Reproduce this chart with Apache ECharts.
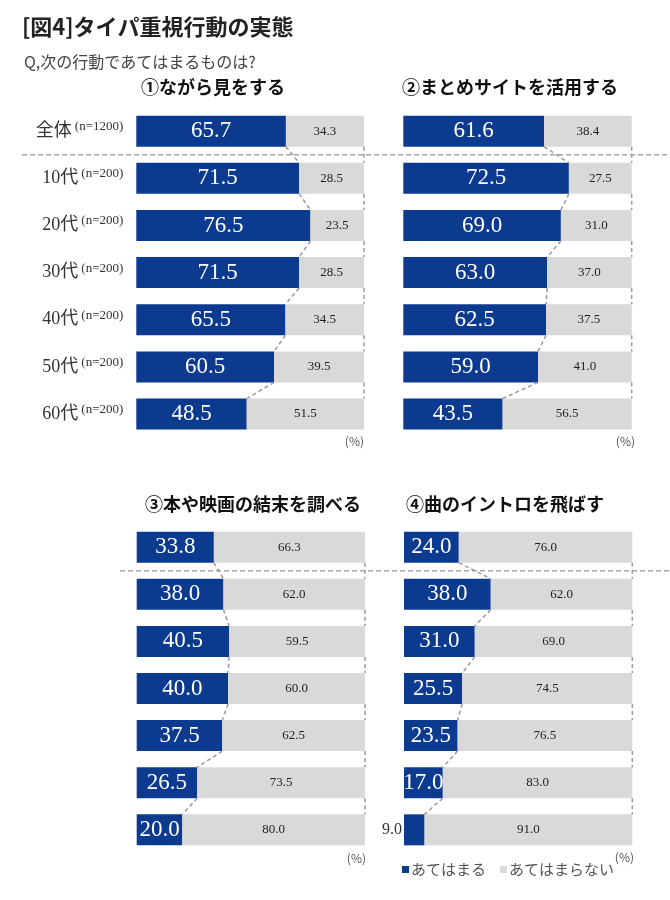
<!DOCTYPE html>
<html><head><meta charset="utf-8">
<script src="https://cdn.jsdelivr.net/npm/echarts@6/dist/echarts.min.js"></script>
<style>html,body{margin:0;padding:0;background:#fff}#c{width:670px;height:900px}</style>
</head><body><div id="c"></div>
<script>
const categories = ['全体','10代','20代','30代','40代','50代','60代'];
const nLabels = ['(n=1200)','(n=200)','(n=200)','(n=200)','(n=200)','(n=200)','(n=200)'];
const seriesNames = ['あてはまる','あてはまらない'];
const panelTitles = ['①ながら見をする','②まとめサイトを活用する','③本や映画の結末を調べる','④曲のイントロを飛ばす'];
const p1Yes = [65.7,71.5,76.5,71.5,65.5,60.5,48.5];
const p1No  = [34.3,28.5,23.5,28.5,34.5,39.5,51.5];
const p2Yes = [61.6,72.5,69.0,63.0,62.5,59.0,43.5];
const p2No  = [38.4,27.5,31.0,37.0,37.5,41.0,56.5];
const p3Yes = [33.8,38.0,40.5,40.0,37.5,26.5,20.0];
const p3No  = [66.3,62.0,59.5,60.0,62.5,73.5,80.0];
const p4Yes = [24.0,38.0,31.0,25.5,23.5,17.0,9.0];
const p4No  = [76.0,62.0,69.0,74.5,76.5,83.0,91.0];

const BLUE = '#0b3a8f', GRAY = '#d9d9d9';
const SERIF = "'Liberation Serif','Noto Sans CJK JP',serif";
const CJK = "'Noto Sans CJK JP','Noto Sans',sans-serif";
const BAR_W = 31;

const panels = [
  {yes:p1Yes,no:p1No},{yes:p2Yes,no:p2No},{yes:p3Yes,no:p3No},{yes:p4Yes,no:p4No}
];
const grids = [
  {left:136.3, top:107.6, width:227.7, height:330},
  {left:403.3, top:107.6, width:228.4, height:330},
  {left:136.7, top:523.6, width:228.3, height:329.8},
  {left:404,   top:523.6, width:228.3, height:329.8}
];

const xAxes = [], yAxes = [], series = [];
panels.forEach((p, k) => {
  xAxes.push({gridIndex:k, type:'value', min:0, max:100, show:false});
  yAxes.push({gridIndex:k, type:'category', inverse:true, data:categories,
    axisLine:{show:false}, axisTick:{show:false}, splitLine:{show:false},
    axisLabel:{show:k===0, margin:13, align:'right',
      formatter:(v,i)=>'{a|'+v+'}{b|'+nLabels[i]+'}',
      rich:{a:{fontSize:18,fontFamily:SERIF,color:'#333'},
            b:{fontSize:13,fontFamily:SERIF,color:'#333',padding:[0,0,9,3]}}}});
  series.push({
    name:seriesNames[0], type:'bar', stack:'s'+k, xAxisIndex:k, yAxisIndex:k,
    barWidth:BAR_W, itemStyle:{color:BLUE},
    data:p.yes.map(v => v < 12 ? {value:v, label:{position:'left', color:'#333', fontSize:16, distance:2}} : v),
    label:{show:true, position:'inside', color:'#fff', fontSize:23, fontFamily:SERIF,
      formatter:d=>d.value.toFixed(1)}
  });
  series.push({
    name:seriesNames[1], type:'bar', stack:'s'+k, xAxisIndex:k, yAxisIndex:k,
    barWidth:BAR_W, itemStyle:{color:GRAY},
    data:p.no,
    label:{show:true, position:'inside', color:'#222', fontSize:13, fontFamily:SERIF,
      formatter:d=>d.value.toFixed(1)}
  });
  const conn = [];
  for (let i = 0; i < p.yes.length - 1; i++) {
    conn.push([p.yes[i], i, p.yes[i+1], i+1]);
    conn.push([100, i, 100, i+1]);
  }
  series.push({
    type:'custom', xAxisIndex:k, yAxisIndex:k, silent:true, z:5,
    data:conn, encode:{x:[0,2], y:[1,3]},
    renderItem:(params, api) => {
      const a = api.coord([api.value(0), api.value(1)]);
      const b = api.coord([api.value(2), api.value(3)]);
      const h = BAR_W/2;
      return {type:'line', shape:{x1:a[0], y1:a[1]+h, x2:b[0], y2:b[1]-h},
        style:{stroke:'#9a9a9a', lineWidth:1.5, lineDash:[4,3]}};
    }
  });
});

const chart = echarts.init(document.getElementById('c'), null, {renderer:'canvas'});
const textEl = (x,y,text,font,color,align) => ({type:'text', x, y, silent:true,
  style:{text, font, fill:color, textAlign:align||'left', textVerticalAlign:'middle'}});

chart.setOption({
  animation:false,
  grid:grids,
  xAxis:xAxes, yAxis:yAxes, series,
  legend:{data:seriesNames, left:402, top:862, icon:'rect', itemWidth:7, itemHeight:7,
    itemGap:14, padding:0, textStyle:{fontSize:15, color:'#555', fontFamily:CJK, padding:[0,0,0,-3]}}
});

const y0 = chart.convertToPixel({gridIndex:0}, [0, 0])[1];
const y1 = chart.convertToPixel({gridIndex:0}, [0, 1])[1];
const y2 = chart.convertToPixel({gridIndex:2}, [0, 0])[1];
const y3 = chart.convertToPixel({gridIndex:2}, [0, 1])[1];
const sepA = (y0+y1)/2, sepB = (y2+y3)/2;
const dashStyle = {stroke:'#a6a6a6', lineWidth:1.5, lineDash:[5,3]};

chart.setOption({
  graphic:[
    textEl(22, 27, '[図4]タイパ重視行動の実態', 'bold 22px '+CJK, '#222'),
    textEl(24, 62, 'Q,次の行動であてはまるものは?', '16px '+CJK, '#444'),
    textEl(213, 87, panelTitles[0], 'bold 18px '+CJK, '#111', 'center'),
    textEl(510, 87, panelTitles[1], 'bold 18px '+CJK, '#111', 'center'),
    textEl(253, 504, panelTitles[2], 'bold 18px '+CJK, '#111', 'center'),
    textEl(505, 504, panelTitles[3], 'bold 18px '+CJK, '#111', 'center'),
    textEl(364, 441, '(%)', '12px '+CJK, '#555', 'right'),
    textEl(635, 441, '(%)', '12px '+CJK, '#555', 'right'),
    textEl(366, 858, '(%)', '12px '+CJK, '#555', 'right'),
    textEl(634, 857, '(%)', '12px '+CJK, '#555', 'right'),
    {type:'line', silent:true, shape:{x1:22, y1:sepA, x2:670, y2:sepA}, style:dashStyle},
    {type:'line', silent:true, shape:{x1:120, y1:sepB, x2:670, y2:sepB}, style:dashStyle}
  ]
});
</script></body></html>
